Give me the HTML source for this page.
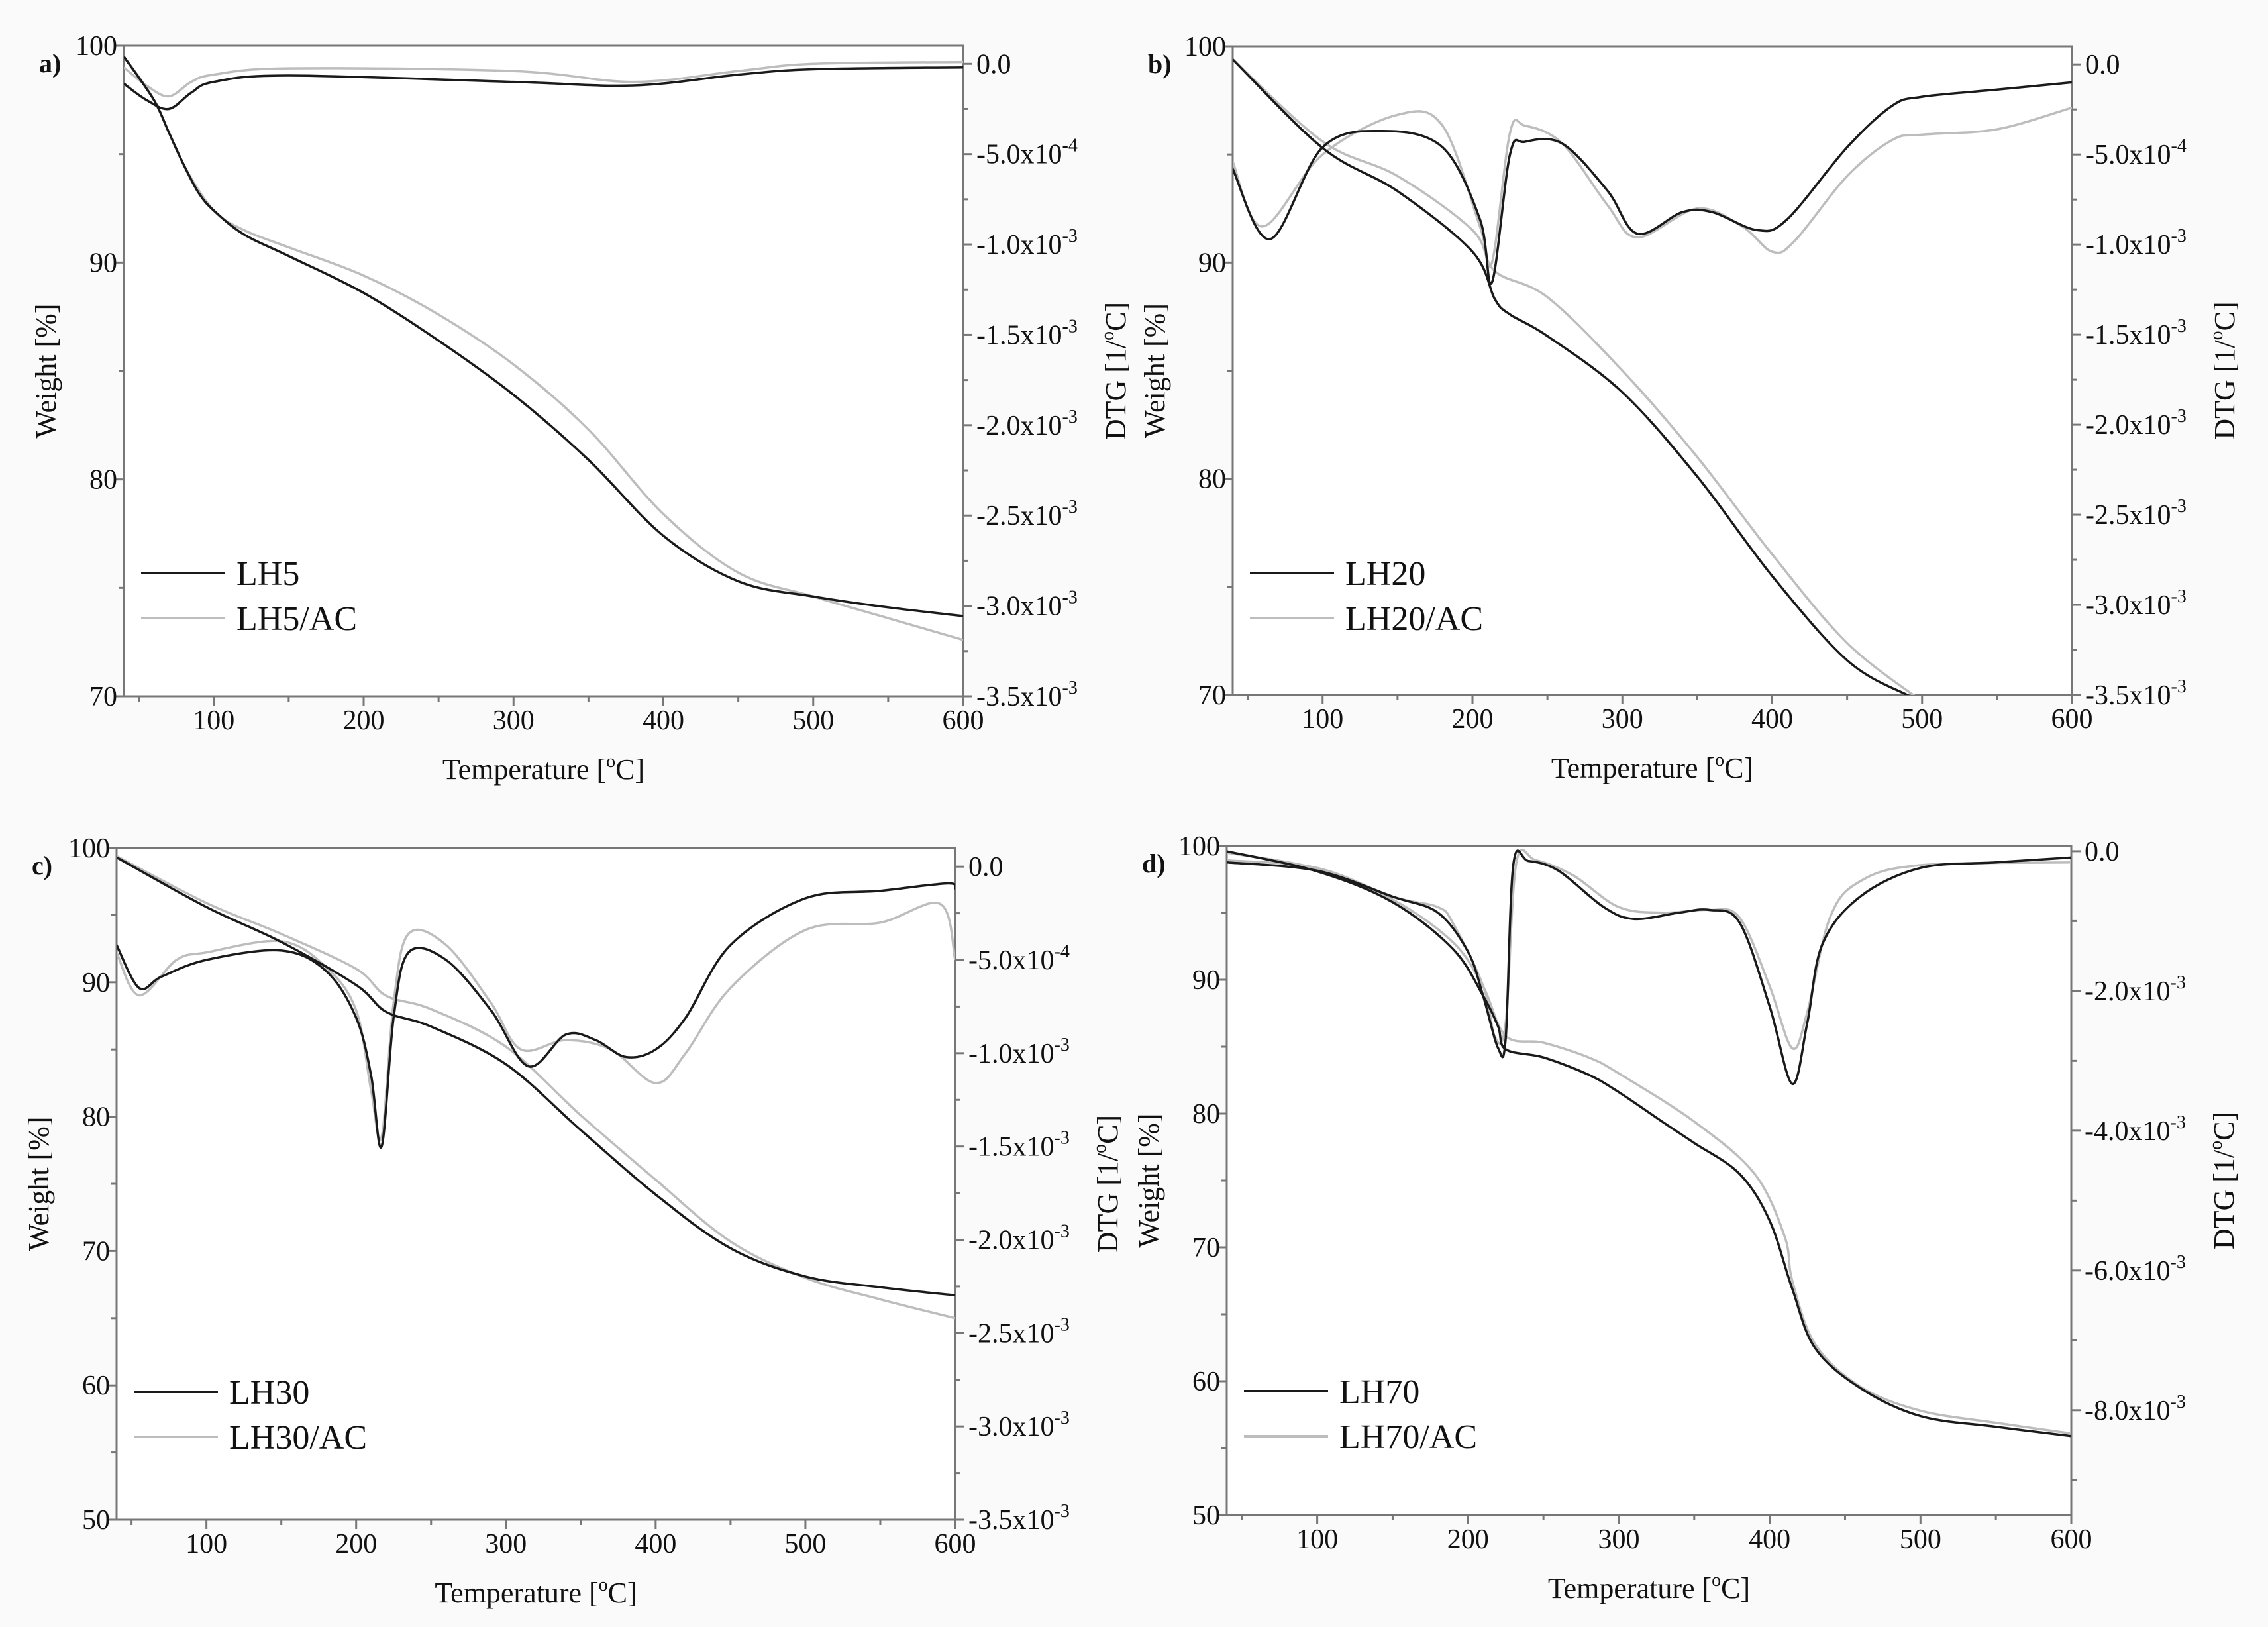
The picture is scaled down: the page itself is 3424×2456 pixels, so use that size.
<!DOCTYPE html>
<html><head><meta charset="utf-8"><style>
html,body{margin:0;padding:0;background:#fafafa;}
svg{display:block;font-family:"Liberation Serif",serif;}
</style></head><body>
<svg id="fig" width="3424" height="2456" viewBox="0 0 3424 2456" xmlns="http://www.w3.org/2000/svg">
<rect x="0" y="0" width="3424" height="2456" fill="#fafafa"/>
</svg>
<script>
// ---- Data (Temperature °C, Weight %, DTG in 1e-3 /°C) ----
const xTicks = [100,200,300,400,500,600];
// Panel a
const aT_w = [40,60,70,80,90,100,120,150,200,250,300,350,400,450,500,550,600];
const aLH5_w = [99.5,97.5,96,94.5,93.2,92.4,91.3,90.3,88.6,86.4,83.9,80.9,77.4,75.3,74.6,74.1,73.7];
const aT_w2 = [40,60,80,100,120,150,200,250,300,350,400,450,500,550,600];
const aLH5AC_w = [99.5,97.5,94.5,92.4,91.5,90.7,89.4,87.6,85.3,82.3,78.4,75.7,74.6,73.6,72.6];
const aT_d = [40,55,70,85,100,150,300,380,450,500,600];
const aLH5_d = [-0.11,-0.2,-0.25,-0.16,-0.1,-0.065,-0.1,-0.12,-0.06,-0.03,-0.02];
const aLH5AC_d = [-0.02,-0.12,-0.18,-0.1,-0.06,-0.025,-0.04,-0.1,-0.04,0,0.01];
// Panel b
const bT_w = [40,100,150,200,215,225,250,300,350,400,450,490,500];
const bLH20_w = [99.4,95.3,93.3,90.5,88.3,87.6,86.6,84.0,80.1,75.5,71.6,70.0,69.8];
const bT_w2 = [40,100,150,200,215,250,300,350,400,450,500];
const bLH20AC_w = [99.4,95.6,94.0,91.5,89.6,88.4,85.0,81.0,76.5,72.4,69.7];
const bT_d = [40,65,100,140,180,205,213,225,235,260,290,310,340,360,390,410,450,480,500,550,600];
const bLH20_d = [-0.58,-0.97,-0.46,-0.37,-0.46,-0.86,-1.21,-0.5,-0.43,-0.44,-0.7,-0.94,-0.82,-0.82,-0.92,-0.86,-0.46,-0.23,-0.18,-0.14,-0.1];
const bT_d2 = [40,60,100,150,180,205,213,225,235,260,290,310,350,380,400,415,450,480,500,550,600];
const bLH20AC_d = [-0.54,-0.9,-0.5,-0.28,-0.34,-0.9,-1.1,-0.38,-0.34,-0.44,-0.78,-0.96,-0.8,-0.9,-1.04,-0.98,-0.62,-0.42,-0.39,-0.36,-0.24];
// Panel c
const cT_w = [40,100,150,200,220,250,300,350,400,450,500,550,600];
const cLH30_w = [99.3,95.6,93.0,89.8,87.8,86.7,83.9,79.0,74.2,70.2,68.1,67.3,66.7];
const cLH30AC_w = [99.4,95.9,93.6,91.0,89.0,88.0,85.2,80.1,75.3,70.7,68.0,66.4,65.0];
const cT_d = [40,55,70,100,150,180,200,210,217,225,235,260,290,315,340,360,380,400,420,450,500,550,595,600];
const cLH30_d = [-0.42,-0.65,-0.59,-0.5,-0.45,-0.56,-0.81,-1.12,-1.5,-0.81,-0.46,-0.5,-0.77,-1.07,-0.9,-0.93,-1.02,-0.98,-0.81,-0.42,-0.17,-0.13,-0.09,-0.12];
const cT_d2 = [40,55,80,100,150,180,200,210,217,225,235,260,290,310,340,370,400,420,450,500,550,590,600];
const cLH30AC_d = [-0.46,-0.69,-0.5,-0.46,-0.4,-0.54,-0.77,-1.2,-1.45,-0.73,-0.36,-0.42,-0.73,-0.98,-0.93,-0.98,-1.16,-1.0,-0.65,-0.34,-0.3,-0.2,-0.5];
// Panel d
const dT_w = [40,100,150,190,210,220,225,250,280,300,330,350,380,400,415,430,460,500,550,600];
const dLH70_w = [99.6,98.1,95.8,92.3,88.8,86.5,84.8,84.2,82.9,81.6,79.3,77.8,75.5,72.0,66.9,62.5,59.5,57.4,56.6,55.9];
const dT_w2 = [40,100,150,190,210,225,250,280,300,350,390,410,415,430,460,500,550,600];
const dLH70AC_w = [99.5,98.3,96.0,92.8,89.5,85.8,85.3,84.2,83.0,79.4,75.5,70.8,67.5,62.8,59.6,57.8,56.9,56.1];
const dT_d = [40,100,150,180,200,210,220,225,230,240,260,290,310,340,360,380,400,415,425,435,460,500,550,600];
const dLH70_d = [-0.16,-0.28,-0.65,-0.88,-1.44,-2.07,-2.82,-2.67,-0.2,-0.14,-0.28,-0.8,-0.97,-0.88,-0.84,-1.02,-2.22,-3.33,-2.45,-1.33,-0.65,-0.24,-0.16,-0.09];
const dT_d2 = [40,100,150,180,190,210,218,225,232,245,270,300,330,360,380,400,415,425,440,460,500,600];
const dLH70AC_d = [-0.13,-0.24,-0.65,-0.8,-1.03,-1.93,-2.67,-2.45,-0.17,-0.13,-0.35,-0.8,-0.88,-0.84,-0.95,-1.93,-2.82,-2.3,-0.95,-0.43,-0.2,-0.16];

const NS='http://www.w3.org/2000/svg';
const svg=document.getElementById('fig');
function el(tag,attrs,parent){const e=document.createElementNS(NS,tag);for(const k in attrs)e.setAttribute(k,attrs[k]);(parent||svg).appendChild(e);return e;}

function smoothPath(pts){
  let d='M'+pts[0][0].toFixed(1)+','+pts[0][1].toFixed(1);
  for(let i=0;i<pts.length-1;i++){
    const p0=pts[i-1]||pts[i],p1=pts[i],p2=pts[i+1],p3=pts[i+2]||p2;
    const c1x=p1[0]+(p2[0]-p0[0])/6,c1y=p1[1]+(p2[1]-p0[1])/6;
    const c2x=p2[0]-(p3[0]-p1[0])/6,c2y=p2[1]-(p3[1]-p1[1])/6;
    d+=' C'+c1x.toFixed(1)+','+c1y.toFixed(1)+' '+c2x.toFixed(1)+','+c2y.toFixed(1)+' '+p2[0].toFixed(1)+','+p2[1].toFixed(1);
  }
  return d;
}

function panel(cfg){
  const g=el('g',{});
  
  
  const {L,R,T,B}=cfg;
  const xs=v=>L+(v-40)/(560)*(R-L);
  const ys=v=>B-(v-cfg.ymin)/(cfg.ymax-cfg.ymin)*(B-T);
  const ds=v=>B-(v-cfg.dmin)/(cfg.dmax-cfg.dmin)*(B-T);
  el('rect',{x:L,y:T,width:R-L,height:B-T,fill:'#fff'},g);
  const clipId='clip'+cfg.id;
  const cp=el('clipPath',{id:clipId},g);
  el('rect',{x:L,y:T,width:R-L,height:B-T},cp);
  const axisCol='#777';
  for(let v=50;v<=600;v+=50){
    const major=v%100===0;
    el('line',{x1:xs(v),x2:xs(v),y1:B,y2:B+(major?14:8),stroke:axisCol,'stroke-width':3},g);
    if(major){const t=el('text',{x:xs(v),y:B+50,'font-size':42,'text-anchor':'middle',fill:'#111'},g);t.textContent=v;
      }
  }
  for(let v=cfg.ymin;v<=cfg.ymax;v+=5){
    const major=v%10===0;
    el('line',{x1:L,x2:L-(major?14:8),y1:ys(v),y2:ys(v),stroke:axisCol,'stroke-width':3},g);
    if(major){const t=el('text',{x:L-10,y:ys(v)+14,'font-size':42,'text-anchor':'end',fill:'#111'},g);t.textContent=v;
      }
  }
  cfg.dTicks.forEach((v,i)=>{
    el('line',{x1:R,x2:R+14,y1:ds(v),y2:ds(v),stroke:axisCol,'stroke-width':3},g);
    if(i<cfg.dTicks.length-1){const m=(v+cfg.dTicks[i+1])/2;el('line',{x1:R,x2:R+8,y1:ds(m),y2:ds(m),stroke:axisCol,'stroke-width':3},g);}
    const t=el('text',{x:R+20,y:ds(v)+14,'font-size':42,fill:'#111'},g);
    
    const lab=cfg.dLabels[i];
    const tb=document.createElementNS(NS,'tspan');tb.textContent=lab[0];t.appendChild(tb);
    if(lab[1]){const ts=document.createElementNS(NS,'tspan');ts.setAttribute('font-size','28');ts.setAttribute('dy','-18');ts.textContent=lab[1];t.appendChild(ts);}
  });
  if(cfg.extraMinor) cfg.extraMinor.forEach(v=>el('line',{x1:R,x2:R+8,y1:ds(v),y2:ds(v),stroke:axisCol,'stroke-width':3},g));
  el('rect',{x:L,y:T,width:R-L,height:B-T,fill:'none',stroke:axisCol,'stroke-width':3},g);
  const lines=el('g',{'clip-path':'url(#'+clipId+')'},g);
  cfg.series.forEach(s=>{
    const pts=s.T.map((t,i)=>[xs(t),s.axis==='w'?ys(s.v[i]):ds(s.v[i])]);
    const p=el('path',{d:smoothPath(pts),fill:'none',stroke:s.col,'stroke-width':3.5,'stroke-linejoin':'round'},lines);
    
    
  });
  const tx=el('text',{x:(L+R)/2,y:B+125,'font-size':44,'text-anchor':'middle',fill:'#111'},g);
  
  tx.innerHTML='Temperature [<tspan font-size="28" dy="-18">o</tspan><tspan dy="18">C]</tspan>';
  const ty=el('text',{x:0,y:0,'font-size':44,'text-anchor':'middle',fill:'#111',transform:'translate('+(L-103)+','+((T+B)/2)+') rotate(-90)'},g);
  ty.textContent='Weight [%]';
  const tr=el('text',{x:0,y:0,'font-size':44,'text-anchor':'middle',fill:'#111',transform:'translate('+(R+245)+','+((T+B)/2)+') rotate(-90)'},g);
  
  tr.innerHTML='DTG [1/<tspan font-size="28" dy="-18">o</tspan><tspan dy="18">C]</tspan>';
  const pl=el('text',{x:L-128,y:T+40,'font-size':40,'font-weight':'bold',fill:'#111'},g);
  pl.textContent=cfg.id+')';
  cfg.legend.forEach((lg,i)=>{
    const y=cfg.legY+i*68;
    const lgG=el('g',{},g);
    
    el('line',{x1:L+26,x2:L+153,y1:y,y2:y,stroke:lg[1],'stroke-width':4},lgG);
    const t=el('text',{x:L+170,y:y+18,'font-size':52,fill:'#111'},lgG);t.textContent=lg[0];
  });
}
const BK='#1a1a1a',GR='#bdbdbd';
const d35=[0,-0.5,-1,-1.5,-2,-2.5,-3,-3.5];
const l35=[['0.0',''],['-5.0x10','-4'],['-1.0x10','-3'],['-1.5x10','-3'],['-2.0x10','-3'],['-2.5x10','-3'],['-3.0x10','-3'],['-3.5x10','-3']];
panel({id:'a',L:187,R:1454,T:69,B:1051,ymin:70,ymax:100,dmin:-3.5,dmax:0.1,dTicks:d35,dLabels:l35,legY:865,
  legend:[['LH5',BK],['LH5/AC',GR]],
  series:[{T:aT_w2,v:aLH5AC_w,axis:'w',col:GR,name:'lh5ac-weight-line'},{T:aT_d,v:aLH5AC_d,axis:'d',col:GR,name:'lh5ac-dtg-line'},
          {T:aT_w,v:aLH5_w,axis:'w',col:BK,name:'lh5-weight-line'},{T:aT_d,v:aLH5_d,axis:'d',col:BK,name:'lh5-dtg-line'}]});
panel({id:'b',L:1861,R:3128,T:70,B:1049,ymin:70,ymax:100,dmin:-3.5,dmax:0.1,dTicks:d35,dLabels:l35,legY:865,
  legend:[['LH20',BK],['LH20/AC',GR]],
  series:[{T:bT_w2,v:bLH20AC_w,axis:'w',col:GR,name:'lh20ac-weight-line'},{T:bT_d2,v:bLH20AC_d,axis:'d',col:GR,name:'lh20ac-dtg-line'},
          {T:bT_w,v:bLH20_w,axis:'w',col:BK,name:'lh20-weight-line'},{T:bT_d,v:bLH20_d,axis:'d',col:BK,name:'lh20-dtg-line'}]});
panel({id:'c',L:176,R:1442,T:1280,B:2294,ymin:50,ymax:100,dmin:-3.5,dmax:0.1,dTicks:d35,dLabels:l35,legY:2101,
  legend:[['LH30',BK],['LH30/AC',GR]],
  series:[{T:cT_w,v:cLH30AC_w,axis:'w',col:GR,name:'lh30ac-weight-line'},{T:cT_d2,v:cLH30AC_d,axis:'d',col:GR,name:'lh30ac-dtg-line'},
          {T:cT_w,v:cLH30_w,axis:'w',col:BK,name:'lh30-weight-line'},{T:cT_d,v:cLH30_d,axis:'d',col:BK,name:'lh30-dtg-line'}]});
panel({id:'d',L:1852,R:3127,T:1277,B:2287,ymin:50,ymax:100,dmin:-9.5,dmax:0.075,dTicks:[0,-2,-4,-6,-8],
  dLabels:[['0.0',''],['-2.0x10','-3'],['-4.0x10','-3'],['-6.0x10','-3'],['-8.0x10','-3']],extraMinor:[-9],legY:2100,
  legend:[['LH70',BK],['LH70/AC',GR]],
  series:[{T:dT_w2,v:dLH70AC_w,axis:'w',col:GR,name:'lh70ac-weight-line'},{T:dT_d2,v:dLH70AC_d,axis:'d',col:GR,name:'lh70ac-dtg-line'},
          {T:dT_w,v:dLH70_w,axis:'w',col:BK,name:'lh70-weight-line'},{T:dT_d,v:dLH70_d,axis:'d',col:BK,name:'lh70-dtg-line'}]});
</script>
</body></html>
